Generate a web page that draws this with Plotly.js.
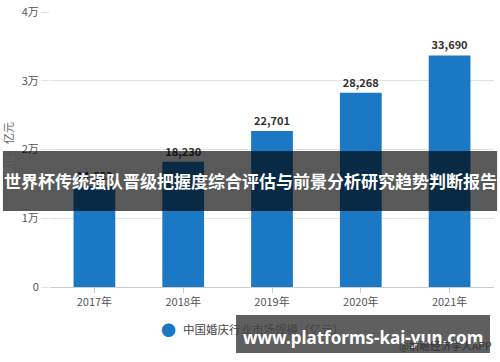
<!DOCTYPE html>
<html>
<head>
<meta charset="utf-8">
<script src="https://cdn.plot.ly/plotly-3.0.1.min.js"></script>
<style>html,body{margin:0;padding:0;background:#fff;}#chart{width:500px;height:362px;}</style>
</head>
<body>
<div id="chart"></div>
<script>
const categories = ['2017年', '2018年', '2019年', '2020年', '2021年'];
const marketSize = [14633, 18230, 22701, 28268, 33690];
const yTickVals = [0, 10000, 20000, 30000, 40000];
const yTickText = ['0', '1万', '2万', '3万', '4万'];
const seriesName = '中国婚庆行业市场规模（亿元）';
const yTitle = '单位：亿元';
const bannerText = '世界杯传统强队晋级把握度综合评估与前景分析研究趋势判断报告';
const siteText = 'www.platforms-kai-yun.com';
const sourceText = '@前瞻经济学人APP';

const FONT = '"Noto Sans CJK SC", "Noto Sans", sans-serif';
const BLUE = '#1b78c4';

const trace = {
  type: 'bar',
  x: categories,
  y: marketSize,
  marker: {color: BLUE},
  texttemplate: '%{y:,}',
  textposition: 'outside',
  cliponaxis: false,
  textfont: {family: FONT, size: 11, color: '#333', weight: 'bold'},
  hoverinfo: 'none',
  showlegend: false
};

const layout = {
  width: 500, height: 362,
  margin: {l: 50, r: 6, t: 12, b: 75},
  paper_bgcolor: '#fff', plot_bgcolor: '#fff',
  font: {family: FONT, color: '#555', size: 11},
  bargap: 0.53,
  xaxis: {
    showline: true, linecolor: '#cccccc', linewidth: 1,
    ticks: 'outside', ticklen: 5, tickcolor: '#cccccc',
    tickfont: {size: 11, color: '#555'},
    fixedrange: true
  },
  yaxis: {
    range: [0, 40000],
    tickvals: yTickVals, ticktext: yTickText,
    showgrid: true, gridcolor: '#e3e3e3', zeroline: false,
    ticks: 'outside', ticklen: 8, tickcolor: '#e3e3e3',
    tickfont: {size: 11, color: '#555'},
    title: {text: yTitle, font: {size: 11, color: '#666'}, standoff: 6},
    fixedrange: true
  },
  shapes: [
    {type: 'rect', xref: 'paper', yref: 'paper', layer: 'above',
     x0: -0.106, x1: 1.007, y0: 0.2764, y1: 0.4945,
     line: {width: 0}, fillcolor: 'rgba(0,0,0,0.65)'},
    {type: 'rect', xref: 'paper', yref: 'paper', layer: 'above',
     x0: 0.419, x1: 0.991, y0: -0.24, y1: -0.1018,
     line: {width: 0}, fillcolor: 'rgba(60,60,60,0.82)'}
  ],
  annotations: [
    {xref: 'paper', yref: 'paper', x: 0.268, y: -0.153, xanchor: 'center', yanchor: 'middle',
     text: '●', showarrow: false, font: {family: FONT, size: 15, color: BLUE}},
    {xref: 'paper', yref: 'paper', x: 0.295, y: -0.153, xanchor: 'left', yanchor: 'middle',
     text: seriesName, showarrow: false, font: {family: FONT, size: 11.5, color: '#444'}},
    {xref: 'paper', yref: 'paper', x: 0.4505, y: 0.3855, xanchor: 'center', yanchor: 'middle',
     text: bannerText, showarrow: false,
     font: {family: FONT, size: 17, color: '#ffffff', weight: 'bold'}},
    {xref: 'paper', yref: 'paper', x: 0.705, y: -0.182, xanchor: 'center', yanchor: 'middle',
     text: siteText, showarrow: false,
     font: {family: '"Noto Sans", sans-serif', size: 17, color: '#ffffff', weight: 'bold'}},
    {xref: 'paper', yref: 'paper', x: 1.0, y: -0.212, xanchor: 'right', yanchor: 'middle',
     text: sourceText, showarrow: false,
     font: {family: FONT, size: 10.5, color: '#333'}}
  ]
};

Plotly.newPlot('chart', [trace], layout, {displayModeBar: false, staticPlot: true});
</script>
</body>
</html>
